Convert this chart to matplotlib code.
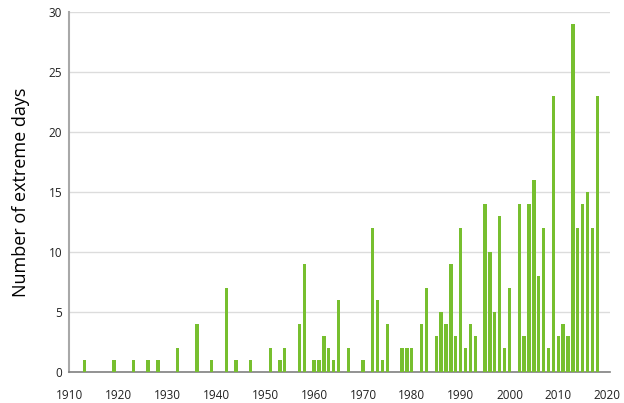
import matplotlib
matplotlib.use("Agg")
import matplotlib.pyplot as plt

# Years with at least one extreme day, and the count for each
years = [1913, 1919, 1923, 1926, 1928, 1932, 1936, 1939, 1942, 1944, 1947,
         1951, 1953, 1954, 1957, 1958, 1960, 1961, 1962, 1963, 1964, 1965,
         1967, 1970, 1972, 1973, 1974, 1975, 1978, 1979, 1980, 1982, 1983,
         1985, 1986, 1987, 1988, 1989, 1990, 1991, 1992, 1993, 1995, 1996,
         1997, 1998, 1999, 2000, 2002, 2003, 2004, 2005, 2006, 2007, 2008,
         2009, 2010, 2011, 2012, 2013, 2014, 2015, 2016, 2017, 2018]
days = [1, 1, 1, 1, 1, 2, 4, 1, 7, 1, 1,
        2, 1, 2, 4, 9, 1, 1, 3, 2, 1, 6,
        2, 1, 12, 6, 1, 4, 2, 2, 2, 4, 7,
        3, 5, 4, 9, 3, 12, 2, 4, 3, 14, 10,
        5, 13, 2, 7, 14, 3, 14, 16, 8, 12, 2,
        23, 3, 4, 3, 29, 12, 14, 15, 12, 23]

x_ticks = list(range(1910, 2021, 10))
y_ticks = list(range(0, 31, 5))

plt.rcParams['font.family'] = ['Open Sans', 'DejaVu Sans']

fig = plt.figure(figsize=(6.24, 4.03), dpi=100)
ax = fig.add_axes([0.1106, 0.0769, 0.867, 0.893])

ax.bar(years, days, width=0.68, color="#77bf2f", zorder=3)

ax.set_xlim(1909.8, 2020.6)
ax.set_ylim(0, 30)
ax.set_xticks(x_ticks)
ax.set_yticks(y_ticks)
ax.tick_params(axis='x', length=0, pad=12, labelsize=8.5, colors="#222222")
ax.tick_params(axis='y', length=0, pad=5, labelsize=8.5, colors="#222222")

ax.yaxis.grid(True, color="#dcdcdc", linewidth=1, zorder=0)
ax.set_axisbelow(True)

for side in ['top', 'right']:
    ax.spines[side].set_visible(False)
ax.spines['left'].set_color("#a8a8a8")
ax.spines['left'].set_linewidth(1.5)
ax.spines['bottom'].set_color("#808080")
ax.spines['bottom'].set_linewidth(1.2)

ax.set_ylabel("Number of extreme days", fontsize=13, labelpad=13, color="#000000")

fig.savefig("out.png", dpi=100)
